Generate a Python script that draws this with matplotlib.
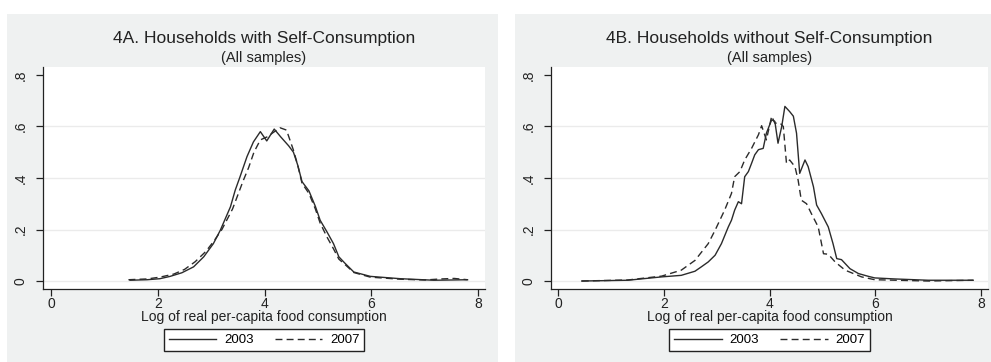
import matplotlib
matplotlib.use("Agg")
import matplotlib.pyplot as plt
from matplotlib.patches import Rectangle

plt.rcParams['font.family'] = ['Liberation Sans', 'DejaVu Sans']

# ---- data ----
a03_x = [1.48, 1.8, 2.04, 2.23, 2.45, 2.67, 2.86, 3.04, 3.17, 3.36, 3.45, 3.54, 3.67, 3.79, 3.92,
         4.04, 4.18, 4.3, 4.45, 4.54, 4.62, 4.7, 4.83, 4.95, 5.04, 5.17, 5.29, 5.39, 5.5, 5.67,
         5.98, 6.54, 7.17, 7.5, 7.8]
a03_y = [0.003, 0.005, 0.009, 0.018, 0.032, 0.055, 0.094, 0.145, 0.197, 0.288, 0.353, 0.405,
         0.483, 0.54, 0.58, 0.544, 0.59, 0.56, 0.525, 0.50, 0.45, 0.386, 0.35, 0.29, 0.236, 0.19,
         0.145, 0.094, 0.07, 0.035, 0.018, 0.009, 0.003, 0.004, 0.005]
a07_x = [1.45, 1.8, 2.04, 2.3, 2.5, 2.7, 2.9, 3.05, 3.2, 3.4, 3.5, 3.6, 3.7, 3.8, 3.92, 4.05,
         4.15, 4.29, 4.41, 4.54, 4.62, 4.7, 4.83, 4.95, 5.04, 5.17, 5.29, 5.39, 5.5, 5.67, 5.98,
         6.54, 7.0, 7.3, 7.55, 7.8]
a07_y = [0.005, 0.008, 0.015, 0.027, 0.045, 0.075, 0.115, 0.155, 0.2, 0.28, 0.335, 0.39, 0.44,
         0.5, 0.548, 0.56, 0.575, 0.595, 0.586, 0.508, 0.45, 0.38, 0.34, 0.28, 0.225, 0.17,
         0.125, 0.085, 0.065, 0.033, 0.015, 0.007, 0.004, 0.008, 0.01, 0.005]

b03_x = [0.45, 1.32, 1.96, 2.33, 2.59, 2.71, 2.84, 2.97, 3.09, 3.22, 3.28, 3.34, 3.41, 3.47,
         3.53, 3.6, 3.66, 3.72, 3.79, 3.88, 3.94, 4.04, 4.1, 4.16, 4.23, 4.29, 4.38, 4.45, 4.51,
         4.57, 4.67, 4.73, 4.83, 4.89, 4.98, 5.11, 5.2, 5.27, 5.36, 5.52, 5.68, 5.87, 5.99, 6.37,
         7.0, 7.85]
b03_y = [0.0, 0.003, 0.016, 0.022, 0.038, 0.055, 0.074, 0.1, 0.145, 0.21, 0.236, 0.275, 0.308,
         0.30, 0.405, 0.425, 0.457, 0.49, 0.51, 0.515, 0.574, 0.626, 0.62, 0.535, 0.6, 0.678,
         0.658, 0.64, 0.574, 0.418, 0.47, 0.444, 0.366, 0.295, 0.262, 0.21, 0.145, 0.087, 0.083,
         0.048, 0.029, 0.018, 0.012, 0.008, 0.003, 0.003]
b07_x = [0.45, 1.32, 1.96, 2.33, 2.59, 2.84, 2.97, 3.15, 3.28, 3.34, 3.44, 3.53, 3.66, 3.79,
         3.85, 3.94, 4.04, 4.1, 4.2, 4.26, 4.32, 4.38, 4.48, 4.54, 4.6, 4.7, 4.79, 4.92, 5.02,
         5.11, 5.24, 5.43, 5.74, 5.99, 7.0, 7.85]
b07_y = [0.0, 0.004, 0.019, 0.042, 0.08, 0.145, 0.197, 0.275, 0.34, 0.405, 0.425, 0.47, 0.515,
         0.568, 0.603, 0.548, 0.64, 0.613, 0.613, 0.6, 0.457, 0.47, 0.444, 0.392, 0.314, 0.30,
         0.262, 0.21, 0.106, 0.104, 0.074, 0.042, 0.016, 0.005, 0.0, 0.003]

titles = ["4A. Households with Self-Consumption", "4B. Households without Self-Consumption"]
subtitle = "(All samples)"
xlabel = "Log of real per-capita food consumption"
series_labels = ["2003", "2007"]
xticks = [0, 2, 4, 6, 8]
yticks = [0, 0.2, 0.4, 0.6, 0.8]
yticklabels = ["0", ".2", ".4", ".6", ".8"]

W, H = 991, 362
fig = plt.figure(figsize=(W / 100, H / 100), dpi=100)
bg = '#eff1f1'
line_col = '#2b2b2b'

def fx(p):
    return p / W

def fy(p):
    return 1 - p / H

# panel backgrounds
fig.patches.append(Rectangle((fx(7), fy(362)), fx(498 - 7), (362 - 14) / H,
                             transform=fig.transFigure, facecolor=bg, edgecolor='none', zorder=-10))
fig.patches.append(Rectangle((fx(515), fy(362)), fx(991 - 515), (362 - 14) / H,
                             transform=fig.transFigure, facecolor=bg, edgecolor='none', zorder=-10))

panels = [
    dict(left=43, right=485, xlim=(-0.15, 8.127), data=(a03_x, a03_y, a07_x, a07_y),
         leg=(167, 361)),
    dict(left=551, right=988, xlim=(-0.132, 8.13), data=(b03_x, b03_y, b07_x, b07_y),
         leg=(674, 865)),
]
top, bottom = 67, 289

for i, p in enumerate(panels):
    ax = fig.add_axes([fx(p['left']), fy(bottom), fx(p['right'] - p['left']), (bottom - top) / H])
    ax.set_zorder(1)
    ax.set_facecolor('white')
    x1, y1, x2, y2 = p['data']
    l1, = ax.plot(x1, y1, color=line_col, lw=1.0, label=series_labels[0])
    l2, = ax.plot(x2, y2, color=line_col, lw=1.0, ls=(0, (5, 3)), label=series_labels[1])
    ax.set_xlim(*p['xlim'])
    ax.set_ylim(-0.031, 0.831)
    ax.set_xticks(xticks)
    ax.set_xticklabels([str(t) for t in xticks])
    ax.set_yticks(yticks)
    ax.set_yticklabels(yticklabels, rotation=90, va='center')
    for t in yticks[:-1]:
        ax.axhline(t, color='#ebebeb', lw=1.0, zorder=0)
    for s in ['top', 'right']:
        ax.spines[s].set_visible(False)
    for s in ['left', 'bottom']:
        ax.spines[s].set_color('#222222')
        ax.spines[s].set_linewidth(0.9)
    ax.tick_params(axis='both', direction='out', length=5, width=0.9, color='#222222',
                   labelsize=10, labelcolor='#222222', pad=1)
    ax.tick_params(axis='y', pad=6)
    ax.set_xlabel(xlabel, fontsize=10, color='#222222', labelpad=-1)
    cx = (p['left'] + p['right']) / 2
    fig.text(fx(cx), fy(38), titles[i], ha='center', va='center', fontsize=12.5, color='#222222')
    fig.text(fx(cx), fy(58), subtitle, ha='center', va='center', fontsize=10.5, color='#222222')
    lx0, lx1 = p['leg']
    leg = fig.legend(handles=[l1, l2], loc='center', ncol=2,
                     bbox_to_anchor=(fx((lx0 + lx1) / 2), fy(340)),
                     fontsize=9.5, frameon=True, fancybox=False, edgecolor='#222222',
                     framealpha=1, handlelength=3.6, columnspacing=1.6, handletextpad=0.6,
                     borderpad=0.35, borderaxespad=0)
    leg.get_frame().set_linewidth(1.0)
    leg.set_zorder(2)

fig.savefig("out.png", dpi=100, facecolor='white')
